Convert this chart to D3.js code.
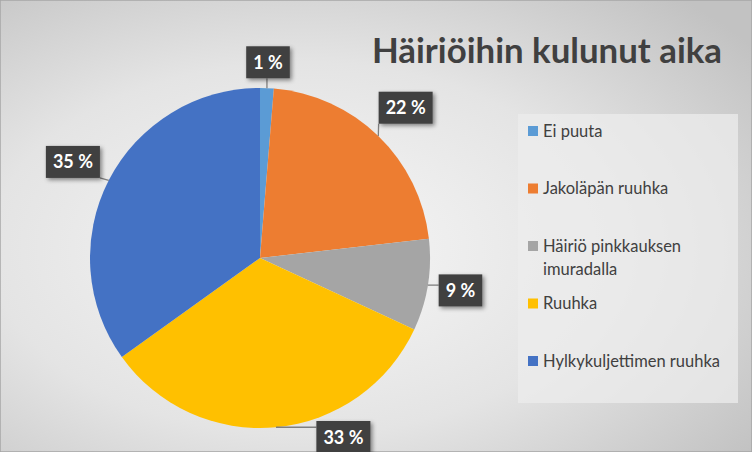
<!DOCTYPE html>
<html>
<head>
<meta charset="utf-8">
<script src="https://cdn.jsdelivr.net/npm/d3@7"></script>
<style>
  html, body { margin: 0; padding: 0; background: #fff; }
  svg { display: block; font-family: Lato, "Open Sans", sans-serif; }
</style>
</head>
<body>
<svg id="chart" width="752" height="452"></svg>
<script>
// share of downtime per cause, percent
const categories = ['Ei puuta', 'Jakoläpän ruuhka', 'Häiriö pinkkauksen imuradalla', 'Ruuhka', 'Hylkykuljettimen ruuhka'];
const legendLines = [['Ei puuta'], ['Jakoläpän ruuhka'], ['Häiriö pinkkauksen', 'imuradalla'], ['Ruuhka'], ['Hylkykuljettimen ruuhka']];
const values = [1.3, 21.9, 8.7, 33.2, 34.9];
const colors = ['#5b9bd5', '#ed7d31', '#a5a5a5', '#ffc000', '#4472c4'];
const title = 'Häiriöihin kulunut aika';

const width = 752, height = 452;
const cx = 260, cy = 258, radius = 170;

const svg = d3.select('#chart');
const defs = svg.append('defs');

const bg = defs.append('radialGradient')
  .attr('id', 'bg')
  .attr('cx', '0.4').attr('cy', '0.55').attr('r', '0.75');
bg.append('stop').attr('offset', '0').attr('stop-color', '#f7f7f7');
bg.append('stop').attr('offset', '0.55').attr('stop-color', '#e4e4e4');
bg.append('stop').attr('offset', '1').attr('stop-color', '#c2c2c2');

const shadow = defs.append('filter').attr('id', 'shadow')
  .attr('x', '-30%').attr('y', '-30%').attr('width', '160%').attr('height', '160%');
shadow.append('feDropShadow')
  .attr('dx', 2).attr('dy', 2).attr('stdDeviation', 2)
  .attr('flood-color', '#000').attr('flood-opacity', 0.45);

svg.append('rect')
  .attr('width', width).attr('height', height)
  .attr('fill', 'url(#bg)')
  .attr('stroke', '#a6a6a6').attr('stroke-width', 1.5);

// title
svg.append('text')
  .attr('x', 372).attr('y', 63)
  .attr('font-size', 34).attr('font-weight', 700)
  .attr('fill', '#404040')
  .attr('textLength', 350).attr('lengthAdjust', 'spacingAndGlyphs')
  .text(title);

// pie
const pie = d3.pie().sort(null).value(d => d)(values);
const arc = d3.arc().innerRadius(0).outerRadius(radius);

const g = svg.append('g').attr('transform', `translate(${cx},${cy})`);
g.selectAll('path.slice')
  .data(pie)
  .join('path')
  .attr('class', 'slice')
  .attr('d', arc)
  .attr('fill', (d, i) => colors[i]);

// data labels (outside end), boxes of dark grey with white text
const total = d3.sum(values);
const fmt = v => `${Math.round(v / total * 100)} %`;
const gap = 9, boxH = 32;

const labels = svg.append('g');
pie.forEach((d, i) => {
  const txt = fmt(d.value);
  const lab = labels.append('g');
  const t = lab.append('text')
    .attr('font-size', 18).attr('font-weight', 700)
    .attr('fill', '#fff')
    .attr('text-anchor', 'middle')
    .text(txt);
  const tw = t.node().getComputedTextLength();
  const boxW = tw + 14;

  const a = (d.startAngle + d.endAngle) / 2;
  const sx = Math.sin(a), sy = -Math.cos(a);
  const dist = radius + gap + Math.abs(sx) * boxW / 2 + Math.abs(sy) * boxH / 2;
  let x = cx + sx * dist, y = cy + sy * dist;
  const maxY = height - boxH / 2 + 1;
  if (y > maxY) {
    const dy = maxY - cy;
    x = cx + Math.sign(sx || 1) * Math.sqrt(Math.max(dist * dist - dy * dy, 0));
    y = maxY;
  }

  // leader from slice edge to nearest point of box
  const px = cx + sx * radius, py = cy + sy * radius;
  const nx = Math.max(x - boxW / 2, Math.min(px, x + boxW / 2));
  const ny = Math.max(y - boxH / 2, Math.min(py, y + boxH / 2));
  if (Math.hypot(nx - px, ny - py) > 4) {
    labels.insert('line', ':first-child')
      .attr('x1', px).attr('y1', py).attr('x2', nx).attr('y2', ny)
      .attr('stroke', '#7f7f7f').attr('stroke-width', 1.3);
  }

  lab.insert('rect', 'text')
    .attr('x', x - boxW / 2).attr('y', y - boxH / 2)
    .attr('width', boxW).attr('height', boxH)
    .attr('fill', '#404040')
    .attr('filter', 'url(#shadow)');
  t.attr('x', x).attr('y', y + 6.5);
});

// legend
const legend = svg.append('g');
legend.append('rect')
  .attr('x', 518).attr('y', 114).attr('width', 220).attr('height', 289)
  .attr('fill', '#ececec').attr('opacity', 0.75);

const legendY = d3.scalePoint()
  .domain(categories)
  .range([131, 361]);

categories.forEach((c, i) => {
  const y = legendY(c);
  legend.append('rect')
    .attr('x', 528).attr('y', y - 5).attr('width', 10).attr('height', 10)
    .attr('fill', colors[i]);
  const t = legend.append('text')
    .attr('x', 543).attr('y', y + 5.5)
    .attr('font-size', 16.5).attr('fill', '#404040');
  legendLines[i].forEach((line, j) => {
    t.append('tspan').attr('x', 543).attr('dy', j === 0 ? 0 : 23).text(line);
  });
});
</script>
</body>
</html>
